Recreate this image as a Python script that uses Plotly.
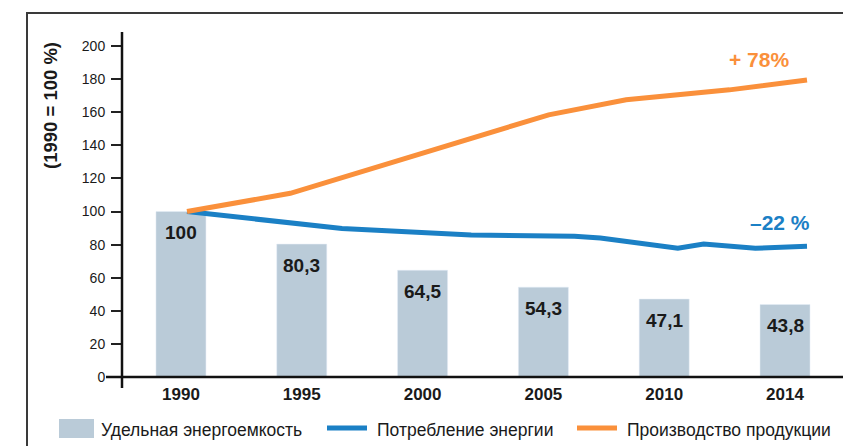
import plotly.graph_objects as go

# ---- data ----
categories = ["1990", "1995", "2000", "2005", "2010", "2014"]
intensity = [100, 80.3, 64.5, 54.3, 47.1, 43.8]
intensity_labels = ["100", "80,3", "64,5", "54,3", "47,1", "43,8"]

consumption_years = [1990, 1996, 2001, 2005, 2006, 2009, 2010, 2012, 2014]
consumption = [100, 89.7, 85.8, 85.0, 84.0, 77.8, 80.4, 77.8, 79.0]

production_years = [1990, 1994, 2004, 2007, 2011, 2014]
production = [100, 111.0, 158.4, 167.5, 173.5, 179.5]

y_ticks = [0, 20, 40, 60, 80, 100, 120, 140, 160, 180, 200]

legend_names = ["Удельная энергоемкость", "Потребление энергии", "Производство продукции"]
y_title = "(1990 = 100 %)"
prod_note = "+ 78%"
cons_note = "–22 %"

# ---- style ----
BAR = "#bacbd8"
BLUE = "#1b80c5"
ORANGE = "#fa903b"
TXT = "#1a1a1a"
FONT = "Liberation Sans, Arial, Helvetica, sans-serif"

# page coordinates (browser window); body has an 8px default margin
W, H = 851, 446
OFF = 8
L, R, T, B = 122, 843, 32, 377
PW, PH = R - L, B - T


def px(x):
    return (x - L) / PW


def py(y):
    return (B - y) / PH


fig = go.Figure()

fig.add_trace(go.Bar(
    x=categories, y=intensity, marker_color=BAR, width=0.414,
    name=legend_names[0], showlegend=False, hoverinfo="skip",
))

fig.add_trace(go.Scatter(
    x=consumption_years, y=consumption, xaxis="x2", mode="lines",
    line=dict(color=BLUE, width=5), name=legend_names[1], showlegend=False,
))
fig.add_trace(go.Scatter(
    x=production_years, y=production, xaxis="x2", mode="lines",
    line=dict(color=ORANGE, width=5), name=legend_names[2], showlegend=False,
))

annotations = []
for i, (v, lab) in enumerate(zip(intensity, intensity_labels)):
    annotations.append(dict(
        x=i, y=v, xref="x", yref="y", text=f"<b>{lab}</b>", showarrow=False,
        yanchor="middle", yshift=-21, font=dict(family=FONT, size=19, color=TXT),
    ))

annotations.append(dict(
    x=production_years[-1], y=production[-1], xref="x2", yref="y",
    text=f"<b>{prod_note}</b>", showarrow=False, xanchor="right", yanchor="bottom",
    xshift=-16, yshift=7, font=dict(family=FONT, size=21, color=ORANGE),
))
annotations.append(dict(
    x=consumption_years[-1], y=consumption[-1], xref="x2", yref="y",
    text=f"<b>{cons_note}</b>", showarrow=False, xanchor="right", yanchor="bottom",
    xshift=5, yshift=10, font=dict(family=FONT, size=21, color=BLUE),
))

annotations.append(dict(
    x=px(50), y=py(106), xref="paper", yref="paper", text=f"<b>{y_title}</b>",
    showarrow=False, textangle=-90, xanchor="center", yanchor="middle",
    font=dict(family=FONT, size=18.5, color=TXT),
))

# manual legend texts
for xpos, name in zip([99, 375, 625], legend_names):
    annotations.append(dict(
        x=px(xpos), y=py(430), xref="paper", yref="paper", text=name,
        showarrow=False, xanchor="left", yanchor="middle",
        font=dict(family=FONT, size=17.5, color=TXT),
    ))

shapes = [
    # frame
    dict(type="rect", xref="paper", yref="paper", x0=px(27), x1=px(1000),
         y0=py(600), y1=py(13), line=dict(color="#3a3a3a", width=2), layer="below"),
    # y axis line
    dict(type="line", xref="paper", yref="paper", x0=px(122), x1=px(122),
         y0=py(388), y1=py(32), line=dict(color="#111", width=2.5)),
    # x axis line
    dict(type="line", xref="paper", yref="paper", x0=px(106), x1=px(843),
         y0=py(377), y1=py(377), line=dict(color="#111", width=2.5)),
    # legend swatches
    dict(type="rect", xref="paper", yref="paper", x0=px(59), x1=px(94),
         y0=py(438), y1=py(419), fillcolor=BAR, line=dict(width=0)),
    dict(type="line", xref="paper", yref="paper", x0=px(327), x1=px(367),
         y0=py(428), y1=py(428), line=dict(color=BLUE, width=5)),
    dict(type="line", xref="paper", yref="paper", x0=px(577), x1=px(617),
         y0=py(428), y1=py(428), line=dict(color=ORANGE, width=5)),
]

yr_px = 620 / 24.0
x2_lo = 1990 - (187 - L) / yr_px
x2_hi = 2014 + (R - 807) / yr_px

fig.update_layout(
    width=W - OFF, height=H - OFF, autosize=False,
    margin=dict(l=L - OFF, r=W - R, t=T - OFF, b=H - B, pad=0),
    paper_bgcolor="white", plot_bgcolor="white",
    showlegend=False,
    font=dict(family=FONT, color=TXT),
    xaxis=dict(
        type="category", range=[-0.488, 5.48], showgrid=False, zeroline=False,
        showline=False, ticks="", tickfont=dict(family=FONT, size=17, color=TXT),
        tickvals=categories, ticktext=[f"<b>{c}</b>" for c in categories],
        ticklabelstandoff=5, fixedrange=True, automargin=False,
    ),
    xaxis2=dict(
        overlaying="x", range=[x2_lo, x2_hi], visible=False, showgrid=False,
        zeroline=False,
    ),
    yaxis=dict(
        range=[0, (B - T) / 1.655], showgrid=False, zeroline=False, showline=False,
        tickvals=y_ticks, ticks="outside", ticklen=10, tickwidth=1.5,
        tickcolor="#222", tickfont=dict(family=FONT, size=14, color=TXT),
        ticklabelstandoff=3, automargin=False,
    ),
    annotations=annotations,
    shapes=shapes,
    bargap=0.5,
)

fig.write_html("out.html")
